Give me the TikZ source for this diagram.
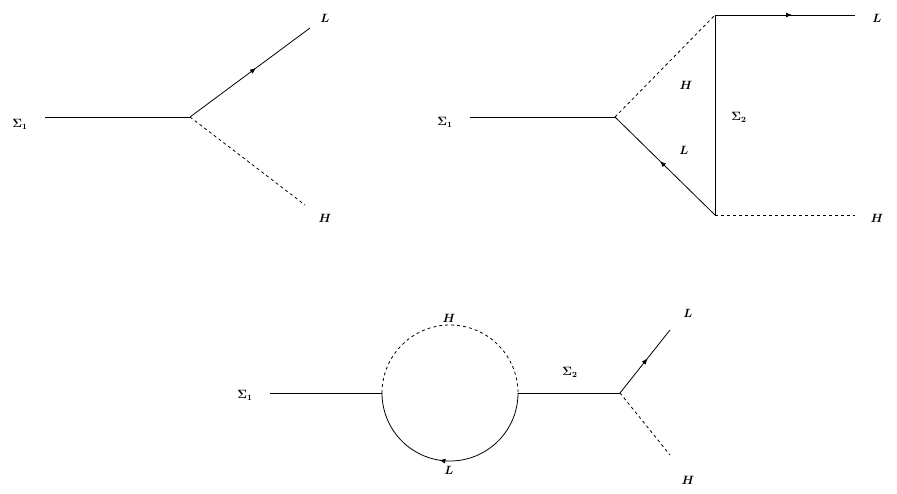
\documentclass[tikz,border=0pt]{standalone}
\usepackage{bm}
\usetikzlibrary{decorations.markings,arrows.meta}
\begin{document}
\begin{tikzpicture}[x=1pt,y=-1pt,
  fer/.style={thick,postaction={decorate},decoration={markings,mark=at position 0.55 with {\arrow{Latex[length=6pt,width=5pt]}}}},
  sca/.style={thick,dashed},
  pl/.style={thick},
  lab/.style={font=\large}]
\useasboundingbox (0,0) rectangle (897,494);
% diagram 1
\node[lab] (s1a) at (20,124) {$\bm{\Sigma_1}$};
\coordinate (a0) at (45,117);
\coordinate (v1) at (190,117);
\coordinate (aL) at (310,28);
\coordinate (aH) at (305,205);
\draw[pl] (a0) -- (v1);
\draw[fer] (v1) -- (aL);
\draw[sca] (v1) -- (aH);
\node[lab] (la) at (325,18) {$\bm{L}$};
\node[lab] (ha) at (325,218) {$\bm{H}$};
% diagram 2
\node[lab] (s1b) at (445,122) {$\bm{\Sigma_1}$};
\coordinate (b0) at (470,117);
\coordinate (v2) at (615,117);
\coordinate (bt) at (715,15);
\coordinate (bb) at (715,215);
\coordinate (bL) at (855,15);
\coordinate (bH) at (855,215);
\draw[pl] (b0) -- (v2);
\draw[sca] (v2) -- (bt);
\draw[fer] (bb) -- (v2);
\draw[pl] (bt) -- (bb);
\draw[fer] (bt) -- (bL);
\draw[sca] (bb) -- (bH);
\node[lab] (hb) at (686,85) {$\bm{H}$};
\node[lab] (lb) at (684,150) {$\bm{L}$};
\node[lab] (s2b) at (739,117) {$\bm{\Sigma_2}$};
\node[lab] (lb2) at (877,18) {$\bm{L}$};
\node[lab] (hb2) at (877,218) {$\bm{H}$};
% diagram 3
\node[lab] (s1c) at (245,395) {$\bm{\Sigma_1}$};
\coordinate (c0) at (270,393);
\coordinate (cl) at (382,393);
\coordinate (cr) at (518,393);
\coordinate (v3) at (620,393);
\coordinate (cL) at (670,330);
\coordinate (cH) at (670,455);
\draw[pl] (c0) -- (cl);
\draw[sca] (cl) arc[start angle=180,end angle=0,x radius=68,y radius=-68];
\draw[fer] (cr) arc[start angle=0,end angle=-180,x radius=68,y radius=-68];
\draw[pl] (cr) -- (v3);
\draw[fer] (v3) -- (cL);
\draw[sca] (v3) -- (cH);
\node[lab] (hc) at (449,318) {$\bm{H}$};
\node[lab] (lc) at (449,470) {$\bm{L}$};
\node[lab] (s2c) at (570,372) {$\bm{\Sigma_2}$};
\node[lab] (lc2) at (688,313) {$\bm{L}$};
\node[lab] (hc2) at (688,480) {$\bm{H}$};
\end{tikzpicture}
\end{document}
